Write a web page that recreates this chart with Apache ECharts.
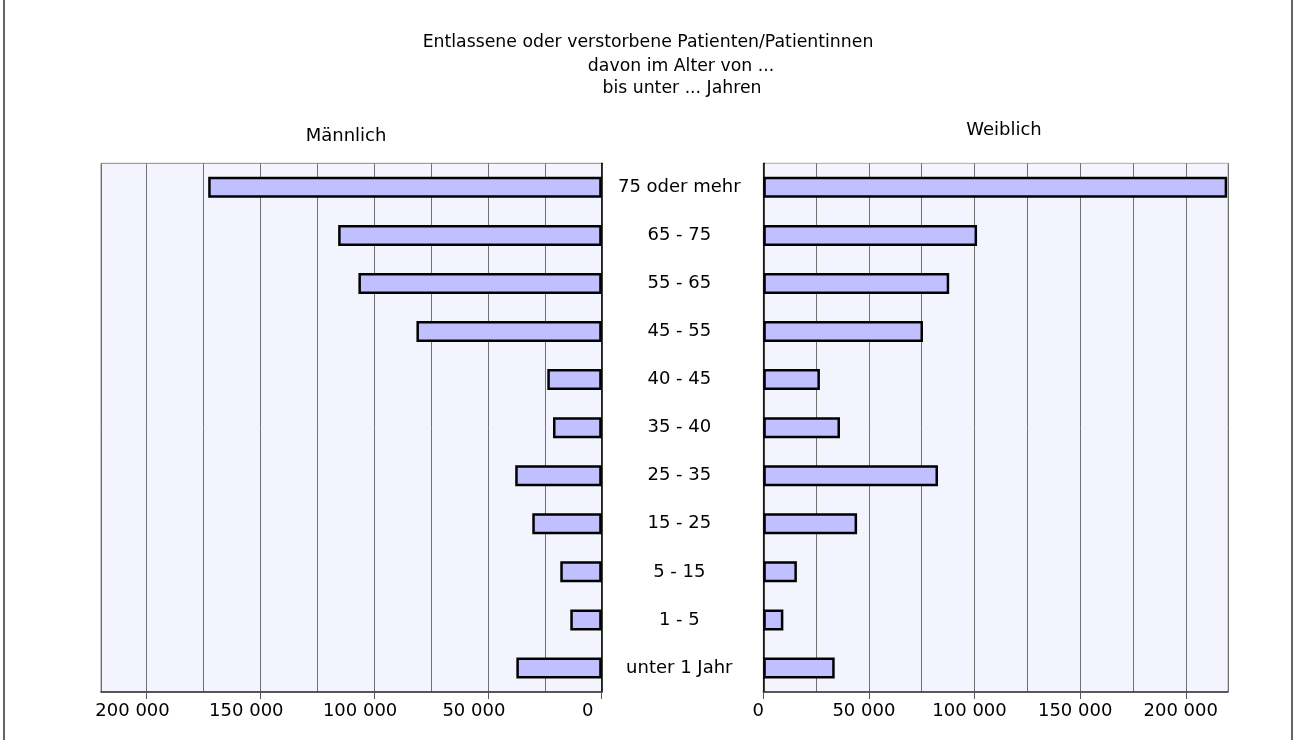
<!DOCTYPE html>
<html>
<head>
<meta charset="utf-8">
<script src="https://cdn.jsdelivr.net/npm/echarts@6/dist/echarts.min.js"></script>
<style>
html,body{margin:0;padding:0;background:#fff;}
#chart{width:1293px;height:740px;}
</style>
</head>
<body>
<div id="chart"></div>
<script>
// Age groups, top to bottom
const categories = ['75 oder mehr','65 - 75','55 - 65','45 - 55','40 - 45','35 - 40','25 - 35','15 - 25','5 - 15','1 - 5','unter 1 Jahr'];
// Männlich (discharged or deceased patients)
const maleValues = [172900, 115800, 106900, 81400, 23900, 21400, 38000, 30500, 18200, 13800, 37500];
// Weiblich
const femaleValues = [219600, 101200, 88000, 75600, 26800, 36300, 82700, 44400, 15900, 9500, 33800];
// Axis tick labels
const tickValues = [0, 50000, 100000, 150000, 200000];
const axisMax = 220000;
const gridStep = 25000;

const titleLines = ['Entlassene oder verstorbene Patienten/Patientinnen','davon im Alter von ...','bis unter ... Jahren'];
const panelTitles = ['Männlich','Weiblich'];

const FONT = 'DejaVu Sans';
const fmt = v => v === 0 ? '0' : (v/1000) + ' 000';

const chart = echarts.init(document.getElementById('chart'), null, {renderer:'canvas'});

function gridAxis(gridIndex, inverse){
  return {
    gridIndex, type:'value', inverse, min:0, max:axisMax, interval:gridStep,
    axisLine:{show:true, onZero:false, lineStyle:{color:'#333', width:1.5}},
    axisTick:{show:false}, axisLabel:{show:false},
    splitLine:{show:true, lineStyle:{color:'#707070', width:1}}
  };
}
function labelAxis(gridIndex, inverse, pad){
  return {
    gridIndex, type:'value', inverse, min:0, max:axisMax, interval:50000, position:'bottom',
    axisLine:{show:false},
    axisTick:{show:true, length:7, customValues:tickValues, lineStyle:{color:'#555'}},
    axisLabel:{show:true, customValues:tickValues, formatter:fmt, margin:10,
      fontFamily:FONT, fontSize:18, color:'#000', padding:pad},
    splitLine:{show:false}
  };
}

const option = {
  backgroundColor:'#fff',
  animation:false,
  grid:[
    {left:101, width:500.7, top:163.3, height:528.7, show:true, backgroundColor:'#f4f4fe', borderColor:'#8a8a8a', borderWidth:1},
    {left:763.3, width:464.7, top:163.3, height:528.7, show:true, backgroundColor:'#f4f4fe', borderColor:'#a8a8a8', borderWidth:1}
  ],
  xAxis:[
    gridAxis(0, true),
    labelAxis(0, true, [0,28,0,0]),
    gridAxis(1, false),
    labelAxis(1, false, [0,10,0,0])
  ],
  yAxis:[
    {gridIndex:0, type:'category', data:categories, inverse:true, position:'right',
     axisLine:{show:true, lineStyle:{color:'#000', width:1.5}}, axisTick:{show:false}, axisLabel:{show:false}, splitLine:{show:false}},
    {gridIndex:1, type:'category', data:categories, inverse:true, position:'left',
     axisLine:{show:true, lineStyle:{color:'#000', width:1.5}}, axisTick:{show:false},
     axisLabel:{show:true, align:'center', margin:84, fontFamily:FONT, fontSize:18, color:'#000'},
     splitLine:{show:false}}
  ],
  series:[
    {name:panelTitles[0], type:'bar', xAxisIndex:0, yAxisIndex:0, data:maleValues, barWidth:21,
     itemStyle:{color:'#c0c0ff', borderColor:'#000', borderWidth:2.5}},
    {name:panelTitles[1], type:'bar', xAxisIndex:2, yAxisIndex:1, data:femaleValues, barWidth:21,
     itemStyle:{color:'#c0c0ff', borderColor:'#000', borderWidth:2.5}}
  ],
  graphic:[
    {type:'rect', shape:{x:4, y:-10, width:1288, height:760}, style:{fill:null, stroke:'#333', lineWidth:1.5}, silent:true},
    {type:'text', x:648, y:43, style:{text:titleLines[0], font:'17.3px "DejaVu Sans"', fill:'#000', textAlign:'center', textVerticalAlign:'middle'}},
    {type:'text', x:681, y:67, style:{text:titleLines[1], font:'17.3px "DejaVu Sans"', fill:'#000', textAlign:'center', textVerticalAlign:'middle'}},
    {type:'text', x:682, y:89, style:{text:titleLines[2], font:'17.3px "DejaVu Sans"', fill:'#000', textAlign:'center', textVerticalAlign:'middle'}},
    {type:'text', x:346, y:136, style:{text:panelTitles[0], font:'18px "DejaVu Sans"', fill:'#000', textAlign:'center', textVerticalAlign:'middle'}},
    {type:'text', x:1004, y:130, style:{text:panelTitles[1], font:'18px "DejaVu Sans"', fill:'#000', textAlign:'center', textVerticalAlign:'middle'}}
  ]
};
chart.setOption(option);
</script>
</body>
</html>
